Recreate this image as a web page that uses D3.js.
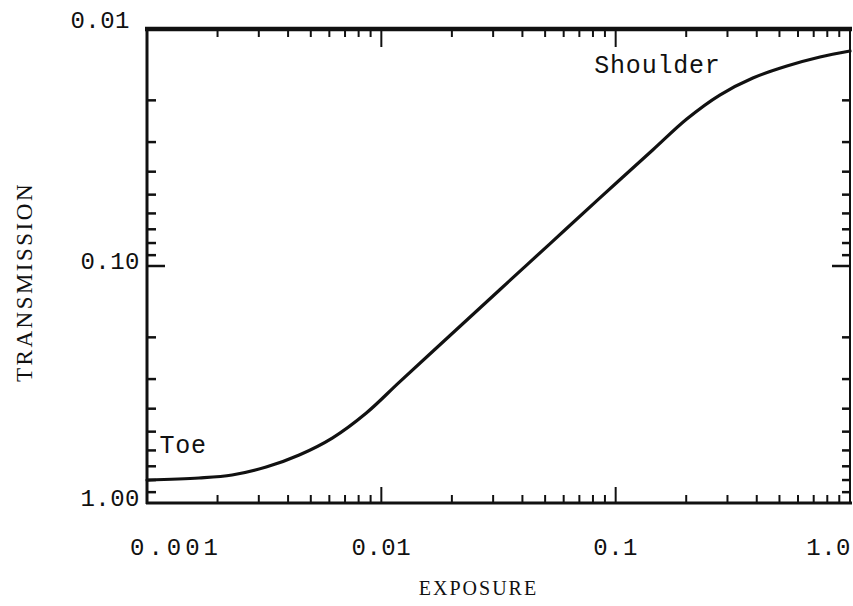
<!DOCTYPE html>
<html>
<head>
<meta charset="utf-8">
<script src="https://cdn.jsdelivr.net/npm/d3@7"></script>
<style>
  html, body { margin: 0; padding: 0; background: #fff; }
  svg { display: block; }
  .mono { font-family: "Liberation Mono", "DejaVu Sans Mono", monospace; fill: #111; }
  .serif { font-family: "Liberation Serif", "DejaVu Serif", serif; fill: #111; }
</style>
</head>
<body>
<svg id="chart" width="853" height="606"></svg>
<script>
// ---- data ----
const exposure = [0.001, 0.001668, 0.002308, 0.003225, 0.004463, 0.006174, 0.00863, 0.01194, 0.01953, 0.03194, 0.05224, 0.08544, 0.1439, 0.2011, 0.2782, 0.385, 0.538, 0.7446, 1.0];
const transmission = [0.800, 0.7845, 0.762, 0.705, 0.627, 0.532, 0.417, 0.309, 0.1974, 0.1262, 0.0808, 0.0517, 0.0324, 0.02398, 0.0190, 0.0161, 0.01433, 0.01313, 0.01238];
const xTickValues = [0.001, 0.01, 0.1, 1.0];
const xTickLabels = ["0.001", "0.01", "0.1", "1.0"];
const yTickValues = [0.01, 0.1, 1.0];
const yTickLabels = ["0.01", "0.10", "1.00"];
const annotations = [
  { text: "Shoulder", x: 0.081, y: 0.0153 },
  { text: "Toe", x: 0.00113, y: 0.615 }
];
const xTitle = "EXPOSURE";
const yTitle = "TRANSMISSION";

// ---- layout ----
const svg = d3.select("#chart");
const L = 147, R = 850, T = 29, B = 503;

const x = d3.scaleLog().domain([0.001, 1]).range([L, R]);
const y = d3.scaleLog().domain([0.01, 1]).range([T, B]);

// minor tick values
const minorX = [];
for (let d = 0.001; d < 0.999; d *= 10) for (let k = 2; k <= 9; k++) minorX.push(d * k);
const minorY = [];
for (let d = 0.01; d < 0.999; d *= 10) for (let k = 2; k <= 9; k++) minorY.push(d * k);

const g = svg.append("g");

// ticks (all pointing inward)
const tickG = g.append("g").attr("stroke", "#111");
minorX.forEach(v => {
  tickG.append("line").attr("x1", x(v)).attr("x2", x(v)).attr("y1", T).attr("y2", T + 8).attr("stroke-width", 2);
  tickG.append("line").attr("x1", x(v)).attr("x2", x(v)).attr("y1", B).attr("y2", B - 8).attr("stroke-width", 2);
});
xTickValues.slice(1, -1).forEach(v => {
  tickG.append("line").attr("x1", x(v)).attr("x2", x(v)).attr("y1", T).attr("y2", T + 18).attr("stroke-width", 2);
  tickG.append("line").attr("x1", x(v)).attr("x2", x(v)).attr("y1", B).attr("y2", B - 16).attr("stroke-width", 2);
});
minorY.forEach(v => {
  tickG.append("line").attr("x1", L).attr("x2", L + 9).attr("y1", y(v)).attr("y2", y(v)).attr("stroke-width", 2.5);
  tickG.append("line").attr("x1", R).attr("x2", R - 8).attr("y1", y(v)).attr("y2", y(v)).attr("stroke-width", 2.5);
});
yTickValues.slice(1, -1).forEach(v => {
  tickG.append("line").attr("x1", L).attr("x2", L + 18).attr("y1", y(v)).attr("y2", y(v)).attr("stroke-width", 2.5);
  tickG.append("line").attr("x1", R).attr("x2", R - 18).attr("y1", y(v)).attr("y2", y(v)).attr("stroke-width", 2.5);
});

// frame
g.append("line").attr("x1", L - 2).attr("x2", R + 2).attr("y1", T).attr("y2", T).attr("stroke", "#111").attr("stroke-width", 4.5);
g.append("line").attr("x1", L - 1).attr("x2", R + 2).attr("y1", B).attr("y2", B).attr("stroke", "#111").attr("stroke-width", 3);
g.append("line").attr("x1", L).attr("x2", L).attr("y1", T - 2).attr("y2", B + 1).attr("stroke", "#111").attr("stroke-width", 3);
g.append("line").attr("x1", R).attr("x2", R).attr("y1", T - 2).attr("y2", B + 1).attr("stroke", "#111").attr("stroke-width", 2);

// curve
const pts = exposure.map((e, i) => [e, transmission[i]]);
const line = d3.line()
  .x(d => x(d[0]))
  .y(d => y(d[1]))
  .curve(d3.curveCatmullRom.alpha(0.5));
g.append("path").datum(pts)
  .attr("d", line)
  .attr("fill", "none")
  .attr("stroke", "#111")
  .attr("stroke-width", 3.2)
  .attr("stroke-linejoin", "round")
  .attr("stroke-linecap", "round");

// x tick labels
g.selectAll(".xl").data(xTickValues).enter().append("text")
  .attr("class", "mono")
  .attr("x", (d, i) => i === 0 ? x(d) - 17 : (i === xTickValues.length - 1 ? x(d) + 1 : x(d)))
  .attr("y", 555)
  .attr("text-anchor", (d, i) => i === 0 ? "start" : (i === xTickValues.length - 1 ? "end" : "middle"))
  .attr("font-size", 24)
  .attr("letter-spacing", (d, i) => i === 0 ? 4 : 0.5)
  .text((d, i) => xTickLabels[i]);

// y tick labels
g.selectAll(".yl").data(yTickValues).enter().append("text")
  .attr("class", "mono")
  .attr("x", (d, i) => i === 0 ? 130 : 140)
  .attr("y", (d, i) => y(d) + (i === 0 ? -1 : 3))
  .attr("text-anchor", "end")
  .attr("font-size", 24)
  .attr("letter-spacing", 0.5)
  .text((d, i) => yTickLabels[i]);

// annotations
g.selectAll(".ann").data(annotations).enter().append("text")
  .attr("class", "mono")
  .attr("x", d => x(d.x))
  .attr("y", d => y(d.y))
  .attr("font-size", 25)
  .attr("letter-spacing", 0.8)
  .text(d => d.text);

// axis titles
g.append("text").attr("class", "serif")
  .attr("x", (L + R) / 2 - 20).attr("y", 595)
  .attr("text-anchor", "middle")
  .attr("font-size", 20).attr("letter-spacing", 2)
  .text(xTitle);

g.append("text").attr("class", "serif")
  .attr("transform", `translate(32, 282) rotate(-90)`)
  .attr("text-anchor", "middle")
  .attr("font-size", 23).attr("letter-spacing", 2.5)
  .text(yTitle);
</script>
</body>
</html>
